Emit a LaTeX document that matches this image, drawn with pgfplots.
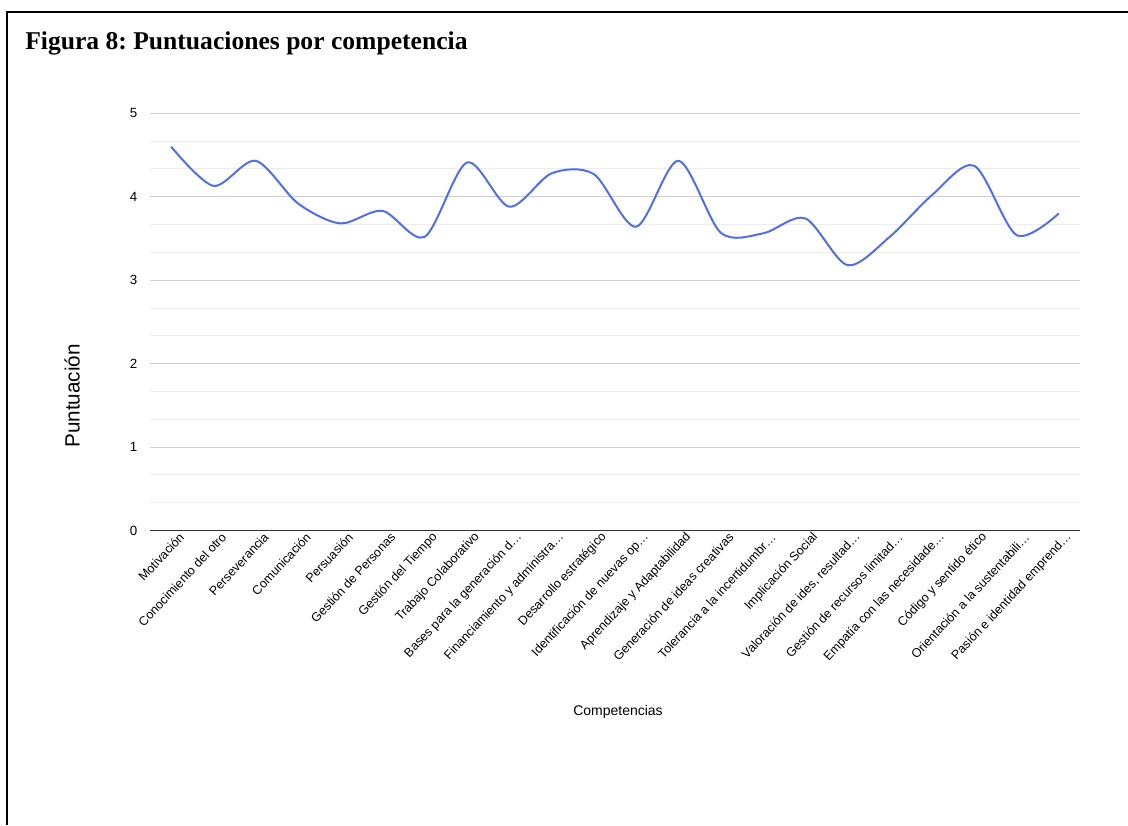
\documentclass[border=0pt]{standalone}
\usepackage{fontspec}
\setmainfont{Liberation Sans}
\newfontfamily\titlefont{Liberation Serif}
\usepackage{pgfplots}
\pgfplotsset{compat=1.18}
\definecolor{linecol}{HTML}{4F6FE8}
\definecolor{majgrid}{HTML}{CFCFCF}
\definecolor{mingrid}{HTML}{ECECEC}
\definecolor{basecol}{HTML}{333333}
\begin{document}
\frenchspacing
\begin{tikzpicture}[x=0.75pt,y=0.75pt]
\path[use as bounding box] (0,0) rectangle (1128,825);
\draw[line width=1.4pt] (7,0) -- (7,813) -- (1128,813);
\node[anchor=base west, font=\titlefont\bfseries\fontsize{19.2pt}{22pt}\selectfont, inner sep=0pt] at (25,775) {Figura 8: Puntuaciones por competencia};
\node[rotate=90, font=\fontsize{15.5pt}{18pt}\selectfont] at (72,429) {Puntuación};
\node[font=\fontsize{10.5pt}{12pt}\selectfont] at (618,113) {Competencias};
\begin{axis}[
  at={(112.5pt,220.9pt)}, anchor=south west,
  scale only axis, width=697.5pt, height=312.9pt,
  xmin=-0.5, xmax=21.5, ymin=0, ymax=5,
  axis line style={draw=none},
  xtick={0,...,21},
  xticklabels={Motivación, Conocimiento del otro, Perseverancia, Comunicación, Persuasión, Gestión de Personas, Gestión del Tiempo, Trabajo Colaborativo, Bases para la generación d…, Financiamiento y administra…, Desarrollo estratégico, Identificación de nuevas op…, Aprendizaje y Adaptabilidad, Generación de ideas creativas, Tolerancia a la incertidumbr…, Implicación Social, {Valoración de ides, resultad…}, Gestión de recursos limitad…, Empatía con las necesidade…, Código y sentido ético, Orientación a la sustentabili…, Pasión e identidad emprend…},
  xticklabel style={rotate=47, anchor=east, font=\fontsize{9.4pt}{11pt}\selectfont, inner sep=1pt, xshift=4pt, yshift=-8pt},
  ytick={0,1,2,3,4,5},
  minor y tick num=2,
  ymajorgrids, yminorgrids,
  major grid style={majgrid, line width=0.6pt},
  minor grid style={mingrid, line width=0.6pt},
  major tick length=0pt, minor tick length=0pt,
  yticklabel style={font=\fontsize{10pt}{12pt}\selectfont, xshift=-6pt},
  /pgf/number format/assume math mode=true,
  clip=false,
]
\draw[basecol, line width=0.8pt] (axis cs:-0.5,0) -- (axis cs:21.5,0);
\addplot[linecol, line width=1.5pt, smooth, tension=0.5, mark=none] coordinates {
(0,4.60) (1,4.13) (2,4.43) (3,3.92) (4,3.68) (5,3.83) (6,3.52) (7,4.41) (8,3.88) (9,4.28) (10,4.27) (11,3.64) (12,4.43) (13,3.57) (14,3.56) (15,3.74) (16,3.18) (17,3.52) (18,4.02) (19,4.37) (20,3.54) (21,3.80)
};
\end{axis}
\end{tikzpicture}
\end{document}
